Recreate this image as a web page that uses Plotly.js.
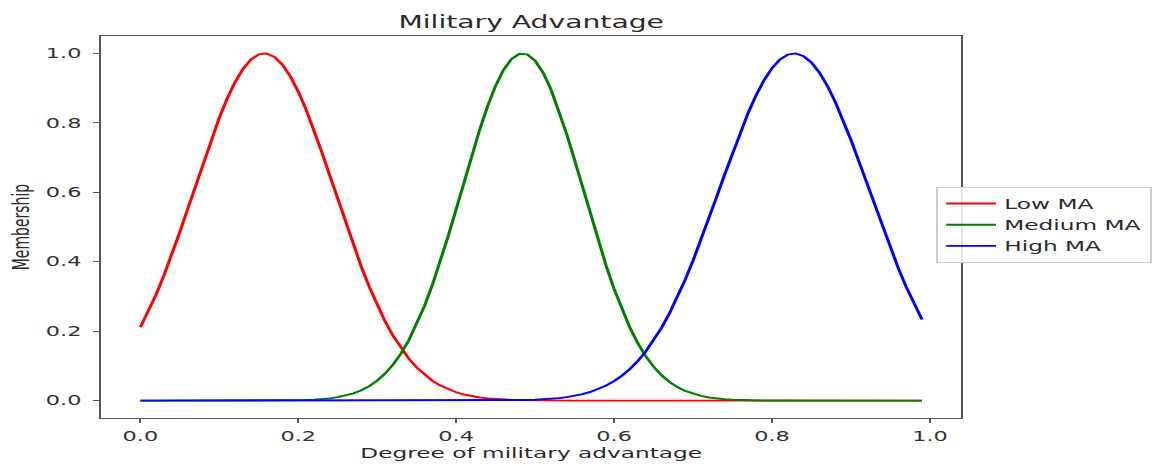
<!DOCTYPE html>
<html><head><meta charset="utf-8">
<script src="https://cdn.plot.ly/plotly-3.0.1.min.js"></script>
<style>
html,body{margin:0;padding:0;overflow:hidden;background:#fff;width:1162px;height:465px;}
#wrap{width:1162px;height:465px;overflow:hidden;}
#chart{width:700px;height:465px;transform:scaleX(1.66);transform-origin:0 0;}
</style></head><body><div id="wrap"><div id="chart"></div></div>
<script>
// Degree of military advantage (x) and membership values
const xValues = [
  0.00,0.01,0.02,0.03,0.04,0.05,0.06,0.07,0.08,0.09,
  0.10,0.11,0.12,0.13,0.14,0.15,0.16,0.17,0.18,0.19,
  0.20,0.21,0.22,0.23,0.24,0.25,0.26,0.27,0.28,0.29,
  0.30,0.31,0.32,0.33,0.34,0.35,0.36,0.37,0.38,0.39,
  0.40,0.41,0.42,0.43,0.44,0.45,0.46,0.47,0.48,0.49,
  0.50,0.51,0.52,0.53,0.54,0.55,0.56,0.57,0.58,0.59,
  0.60,0.61,0.62,0.63,0.64,0.65,0.66,0.67,0.68,0.69,
  0.70,0.71,0.72,0.73,0.74,0.75,0.76,0.77,0.78,0.79,
  0.80,0.81,0.82,0.83,0.84,0.85,0.86,0.87,0.88,0.89,
  0.90,0.91,0.92,0.93,0.94,0.95,0.96,0.97,0.98,0.99];
const lowMA = [
  0.2110,0.2556,0.3059,0.3613,0.4214,0.4854,0.5522,0.6202,0.6878,0.7532,
  0.8146,0.8699,0.9172,0.9550,0.9819,0.9969,0.9994,0.9894,0.9672,0.9336,
  0.8899,0.8375,0.7784,0.7144,0.6474,0.5793,0.5119,0.4466,0.3848,0.3274,
  0.2751,0.2282,0.1869,0.1512,0.1208,0.0953,0.0742,0.0570,0.0433,0.0325,
  0.0241,0.0176,0.0127,0.0091,0.0064,0.0044,0.0030,0.0021,0.0014,0.0009,
  0.0006,0.0004,0.0002,0.0001,0.0001,0,0,0,0,0,
  0,0,0,0,0,0,0,0,0,0,
  0,0,0,0,0,0,0,0,0,0,
  0,0,0,0,0,0,0,0,0,0,
  0,0,0,0,0,0,0,0,0,0];
const mediumMA = [
  0,0,0,0,0,0,0,0,0,0,
  0,0,0,0,0,0,0,0.0002,0.0004,0.0007,
  0.0011,0.0018,0.0028,0.0043,0.0066,0.0099,0.0145,0.0210,0.0299,0.0418,
  0.0576,0.0778,0.1035,0.1353,0.1740,0.2200,0.2734,0.3342,0.4017,0.4747,
  0.5516,0.6301,0.7079,0.7820,0.8493,0.9071,0.9526,0.9836,0.9987,0.9970,
  0.9786,0.9446,0.8965,0.8366,0.7676,0.6926,0.6144,0.5360,0.4597,0.3877,
  0.3215,0.2622,0.2102,0.1657,0.1284,0.0979,0.0734,0.0541,0.0392,0.0279,
  0.0196,0.0135,0.0091,0.0061,0.0040,0.0026,0.0016,0.0010,0.0006,0.0004,
  0.0002,0.0001,0,0,0,0,0,0,0,0,
  0,0,0,0,0,0,0,0,0,0];
const highMA = [
  0,0,0,0,0,0,0,0,0,0,
  0,0,0,0,0,0,0,0,0,0,
  0,0,0,0,0,0,0,0,0,0,
  0,0,0,0,0,0,0,0,0,0,
  0,0,0.0001,0.0002,0.0002,0.0004,0.0006,0.0008,0.0012,0.0018,
  0.0026,0.0037,0.0052,0.0073,0.0101,0.0138,0.0187,0.0250,0.0332,0.0434,
  0.0561,0.0719,0.0910,0.1139,0.1411,0.1729,0.2094,0.2508,0.2972,0.3482,
  0.4034,0.4624,0.5240,0.5874,0.6512,0.7138,0.7740,0.8300,0.8802,0.9231,
  0.9575,0.9822,0.9965,0.9998,0.9920,0.9735,0.9449,0.9069,0.8609,0.8082,
  0.7504,0.6890,0.6257,0.5619,0.4991,0.4384,0.3809,0.3272,0.2780,0.2336];
const seriesNames = ['Low MA','Medium MA','High MA'];
const seriesColors = ['#ff0000','#008000','#0000ff'];
const xTickVals = [0.0,0.2,0.4,0.6,0.8,1.0];
const xTickText = ['0.0','0.2','0.4','0.6','0.8','1.0'];
const yTickVals = [0.0,0.2,0.4,0.6,0.8,1.0];
const yTickText = ['0.0','0.2','0.4','0.6','0.8','1.0'];
const chartTitle = 'Military Advantage';
const xTitle = 'Degree of military advantage';
const yTitle = 'Membership';

const series = [lowMA, mediumMA, highMA];
const FONT = 'DejaVu Sans, Verdana, sans-serif';
const traces = series.map((ys, i) => ({
  x: xValues, y: ys, type: 'scatter', mode: 'lines',
  name: seriesNames[i], legendgroup: 'g' + i,
  line: {color: seriesColors[i], width: 1.9}
}));

const axisCommon = {
  showgrid: false, zeroline: false, showline: true, mirror: true,
  linecolor: '#555', linewidth: 1.2,
  ticks: 'outside', ticklen: 4, tickwidth: 1.2, tickcolor: '#555',
  tickfont: {family: FONT, size: 13.5, color: '#333'}
};

const layout = {
  width: 700, height: 465,
  margin: {l: 61, r: 120.5, t: 36, b: 47, autoexpand: false},
  paper_bgcolor: '#fff', plot_bgcolor: '#fff',
  title: {text: chartTitle, x: 0.5, xref: 'paper', xanchor: 'center',
          y: 1 - 22/465, yanchor: 'middle',
          font: {family: FONT, size: 17, color: '#2a2a2a'}},
  xaxis: Object.assign({}, axisCommon, {
    range: [-0.0495, 1.0395], tickvals: xTickVals, ticktext: xTickText,
    ticklabelstandoff: 2,
    title: {text: xTitle, standoff: 4, font: {family: FONT, size: 14, color: '#2a2a2a'}}
  }),
  yaxis: Object.assign({}, axisCommon, {
    range: [-0.05, 1.05], tickvals: yTickVals, ticktext: yTickText,
    ticklabelstandoff: 4,
    title: {text: yTitle, standoff: 6, font: {family: FONT, size: 14, color: '#2a2a2a'}}
  }),
  showlegend: true,
  legend: {x: 0.971, y: 0.605, xanchor: 'left', yanchor: 'top',
           bgcolor: 'rgba(255,255,255,0.85)', bordercolor: '#cccccc', borderwidth: 1,
           tracegroupgap: 0,
           font: {family: FONT, size: 14, color: '#2a2a2a'}}
};

Plotly.newPlot('chart', traces, layout, {displayModeBar: false, staticPlot: true});
</script></body></html>
